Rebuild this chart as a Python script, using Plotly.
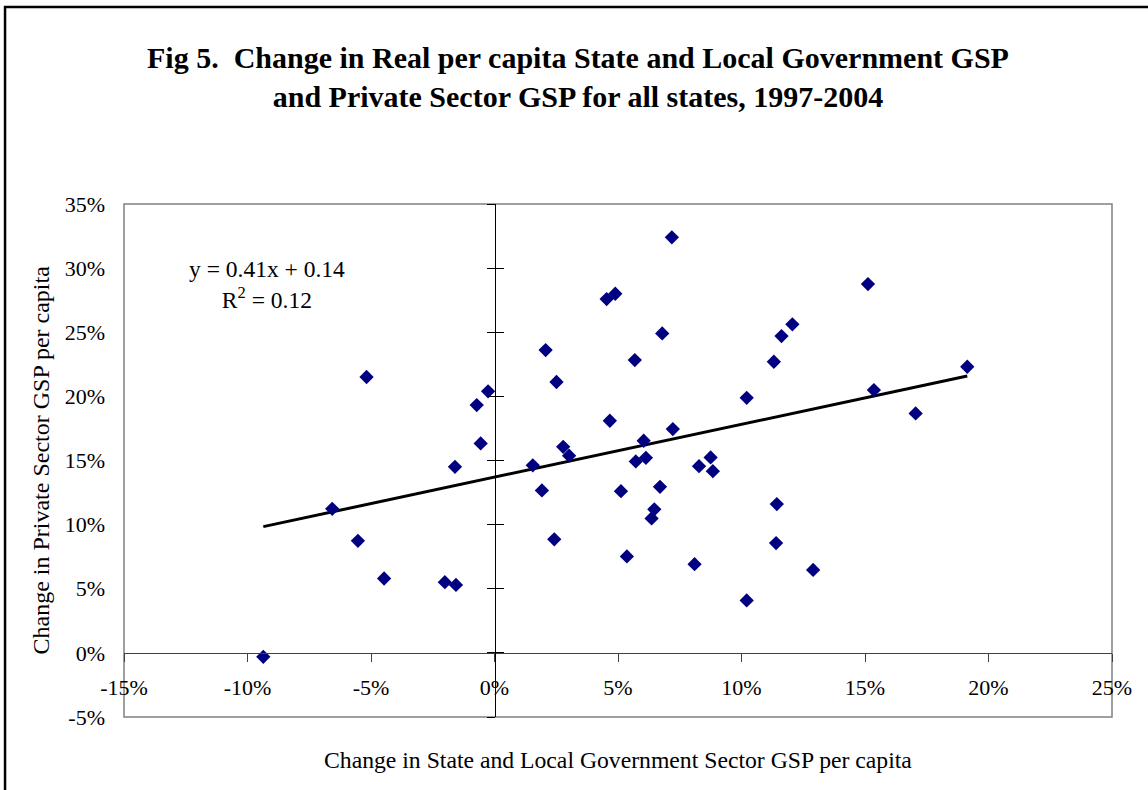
import numpy as np
import plotly.graph_objects as go

# Change in State & Local Government Sector GSP per capita (%)
gov_change = [-9.36, -6.57, -5.53, -4.47, -2.01, -1.56, -1.60, -5.18, -0.26, -0.72,
              -0.56, 7.18, 4.54, 4.89, 6.79, 2.07, 5.68, 2.51, 12.06, 11.62,
              11.31, 10.21, 4.67, 7.22, 2.78, 3.02, 6.04, 1.55, 5.72, 6.13,
              8.28, 8.75, 8.84, 1.92, 5.12, 6.70, 6.47, 6.36, 2.42, 5.36,
              8.10, 10.21, 11.43, 11.40, 12.90, 15.12, 19.14, 15.36, 17.05]
# Change in Private Sector GSP per capita (%)
priv_change = [-0.31, 11.23, 8.74, 5.80, 5.51, 5.30, 14.51, 21.51, 20.39, 19.32,
               16.33, 32.40, 27.59, 28.00, 24.91, 23.61, 22.83, 21.12, 25.62, 24.70,
               22.70, 19.89, 18.10, 17.45, 16.07, 15.38, 16.54, 14.62, 14.93, 15.21,
               14.56, 15.24, 14.17, 12.67, 12.61, 12.95, 11.19, 10.48, 8.85, 7.52,
               6.92, 4.09, 11.60, 8.56, 6.47, 28.76, 22.31, 20.49, 18.67]

x_tick_vals = [-0.15, -0.10, -0.05, 0.0, 0.05, 0.10, 0.15, 0.20, 0.25]
x_tick_text = ["-15%", "-10%", "-5%", "0%", "5%", "10%", "15%", "20%", "25%"]
y_tick_vals = [-0.05, 0.0, 0.05, 0.10, 0.15, 0.20, 0.25, 0.30, 0.35]
y_tick_text = ["-5%", "0%", "5%", "10%", "15%", "20%", "25%", "30%", "35%"]

title_lines = ["Fig 5.\u00a0 Change in Real per capita State and Local Government GSP",
               "and Private Sector GSP for all states, 1997-2004"]
x_title = "Change in State and Local Government Sector GSP per capita"
y_title = "Change in Private Sector GSP per capita"
eq_text = "y = 0.41x + 0.14<br>R<sup>2</sup> = 0.12"

x = np.array(gov_change) / 100.0
y = np.array(priv_change) / 100.0
slope, intercept = np.polyfit(x, y, 1)
xl = np.array([x.min(), x.max()])
yl = slope * xl + intercept

FONT = "Liberation Serif"
x_range = [-0.15, 0.25]
y_range = [-0.05, 0.35]
x_zero_pos = (0 - x_range[0]) / (x_range[1] - x_range[0])
y_zero_pos = (0 - y_range[0]) / (y_range[1] - y_range[0])

fig = go.Figure()
fig.add_trace(go.Scatter(x=xl, y=yl, mode="lines",
                         line=dict(color="black", width=3), hoverinfo="skip",
                         showlegend=False))
fig.add_trace(go.Scatter(x=x, y=y, mode="markers",
                         marker=dict(symbol="diamond", size=11, color="#000080",
                                     line=dict(width=0)),
                         showlegend=False))

axis_font = dict(family=FONT, size=22, color="black")
fig.update_layout(
    width=1148, height=790,
    margin=dict(l=124, r=36, t=204, b=73),
    paper_bgcolor="white", plot_bgcolor="white",
    font=dict(family=FONT, color="black"),
    xaxis=dict(range=x_range, tickmode="array", tickvals=x_tick_vals, ticktext=x_tick_text,
               anchor="free", position=y_zero_pos,
               showline=True, linecolor="#404040", linewidth=1,
               ticks="outside", ticklen=8, tickcolor="#404040", tickwidth=1,
               showgrid=False, zeroline=False, tickfont=axis_font,
               ticklabelstandoff=7),
    yaxis=dict(range=y_range, tickmode="array", tickvals=y_tick_vals, ticktext=y_tick_text,
               showline=False, ticks="", showgrid=False, zeroline=False,
               tickfont=axis_font, ticklabelstandoff=18),
    yaxis2=dict(range=y_range, tickmode="array", tickvals=y_tick_vals, overlaying="y",
                anchor="free", position=x_zero_pos, side="left",
                showline=True, linecolor="black", linewidth=1,
                ticks="outside", ticklen=8, tickcolor="black",
                showticklabels=False, showgrid=False, zeroline=False),
    yaxis3=dict(range=y_range, tickmode="array", tickvals=y_tick_vals, overlaying="y",
                anchor="free", position=x_zero_pos, side="left",
                showline=False, ticks="inside", ticklen=8, tickcolor="black",
                showticklabels=False, showgrid=False, zeroline=False),
    shapes=[
        dict(type="rect", xref="paper", yref="paper", x0=0, x1=1, y0=0, y1=1,
             line=dict(color="#808080", width=1.5), layer="below"),
        dict(type="rect", xref="paper", yref="paper",
             x0=-0.1204, x1=2.0, y0=-1.0, y1=1.384,
             line=dict(color="black", width=2.5)),
    ],
    annotations=[
        dict(text="<b>" + title_lines[0] + "<br>" + title_lines[1] + "</b>",
             xref="paper", yref="paper", x=0.46, y=1.248, xanchor="center",
             yanchor="middle", showarrow=False,
             font=dict(family=FONT, size=30, color="black")),
        dict(text=x_title, xref="paper", yref="paper", x=0.5, y=-0.0838,
             xanchor="center", yanchor="middle", showarrow=False,
             font=dict(family=FONT, size=23.7, color="black")),
        dict(text=y_title, xref="paper", yref="paper", x=-0.0850, y=0.5,
             xanchor="center", yanchor="middle", textangle=-90, showarrow=False,
             font=dict(family=FONT, size=24, color="black")),
        dict(text=eq_text, xref="paper", yref="paper", x=0.1447, y=0.844,
             xanchor="center", yanchor="middle", showarrow=False, align="center",
             font=dict(family=FONT, size=23.5, color="black")),
    ],
)
# ensure overlay axes are rendered
fig.add_trace(go.Scatter(x=[None], y=[None], yaxis="y2", showlegend=False, hoverinfo="skip"))
fig.add_trace(go.Scatter(x=[None], y=[None], yaxis="y3", showlegend=False, hoverinfo="skip"))

fig.write_html("out.html")
